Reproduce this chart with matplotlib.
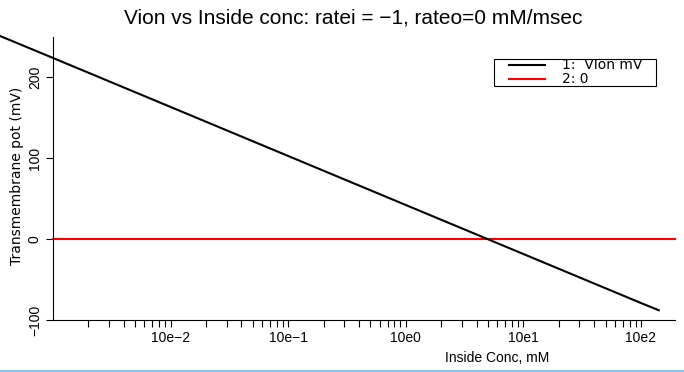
"""Vion vs inside concentration (NEURON-style graph), redrawn with matplotlib."""
import matplotlib
matplotlib.use("Agg")
import matplotlib.pyplot as plt
from matplotlib.lines import Line2D
from matplotlib.patches import Rectangle
from matplotlib.ticker import FixedLocator, NullFormatter

# values
conc_in = [3.0e-4, 1e-3, 1e-2, 1e-1, 1.0, 10.0, 100.0, 142.0]       # mM
v_ion = [255.0, 223.5, 163.0, 102.5, 42.0, -18.5, -79.0, -88.0]      # mV
zero_x = [1e-3, 195.0]
zero_y = [0.0, 0.0]

x_major = [1e-2, 1e-1, 1e0, 1e1, 1e2]
x_major_labels = ["10e\u22122", "10e\u22121", "10e0", "10e1", "10e2"]
y_ticks = [-100, 0, 100, 200]
y_tick_labels = ["\u2212100", "0", "100", "200"]

TITLE = "Vion vs Inside conc: ratei = \u22121, rateo=0 mM/msec"
XLABEL = "Inside Conc, mM"
YLABEL = "Transmembrane pot (mV)"
LEGEND_LABELS = ["1:  VIon mV", "2: 0"]
COLORS = ["black", "#ff0000"]

SANS = ["Liberation Sans", "DejaVu Sans"]
WIDE = ["DejaVu Sans"]

W, H = 684, 372
fig = plt.figure(figsize=(W / 100, H / 100), dpi=100)
ax = fig.add_axes([53 / W, 1 - 320 / H, (675 - 53) / W, (320 - 36.5) / H])

ax.plot(conc_in, v_ion, color=COLORS[0], lw=1.5, clip_on=False, zorder=3)
ax.plot(zero_x, zero_y, color=COLORS[1], lw=1.5, clip_on=False, zorder=2)

ax.set_xscale("log")
ax.set_xlim(1e-3, 195)
ax.set_ylim(-100, 250)

ax.spines["top"].set_visible(False)
ax.spines["right"].set_visible(False)
for s in ("left", "bottom"):
    ax.spines[s].set_linewidth(0.8)

minor = [m * 10.0 ** e for e in range(-3, 3) for m in range(2, 10) if m * 10.0 ** e < 195]
ax.xaxis.set_major_locator(FixedLocator(x_major))
ax.xaxis.set_minor_locator(FixedLocator(minor))
ax.xaxis.set_minor_formatter(NullFormatter())
ax.set_xticklabels(x_major_labels, family=SANS, fontsize=10)
ax.tick_params(axis="x", which="both", direction="out", length=5, width=0.8, pad=3)

ax.set_yticks(y_ticks)
ax.set_yticklabels(y_tick_labels, family=SANS, fontsize=10, rotation=90, va="center")
ax.tick_params(axis="y", direction="out", length=5, width=0.8, pad=3)

fig.text(353 / W, 1 - 18 / H, TITLE, ha="center", va="center",
         family=SANS, fontsize=15)
fig.text(497 / W, 1 - 358 / H, XLABEL, ha="center", va="center",
         family=SANS, fontsize=10)
fig.text(17 / W, 1 - 176 / H, YLABEL, ha="center", va="center", rotation=90,
         family=WIDE, fontsize=10)

# legend box, drawn by hand to match the NEURON layout
fig.add_artist(Rectangle((494 / W, 1 - 86 / H), (656 - 494) / W, 27 / H,
                         transform=fig.transFigure, facecolor="white",
                         edgecolor="black", lw=0.8, zorder=5))
for i, (lab, col) in enumerate(zip(LEGEND_LABELS, COLORS)):
    yy = 1 - (65 + 14 * i) / H
    fig.add_artist(Line2D([509 / W, 545 / W], [yy, yy], color=col, lw=1.5,
                          transform=fig.transFigure, zorder=6))
    fig.text(562 / W, yy, lab, ha="left", va="center", family=WIDE,
             fontsize=10, zorder=6)

# light blue strip along the bottom edge of the window
fig.add_artist(Line2D([0, 1], [1.5 / H, 1.5 / H], color="#87c4f5", lw=2.2,
                      transform=fig.transFigure))

fig.savefig("out.png", dpi=100)
